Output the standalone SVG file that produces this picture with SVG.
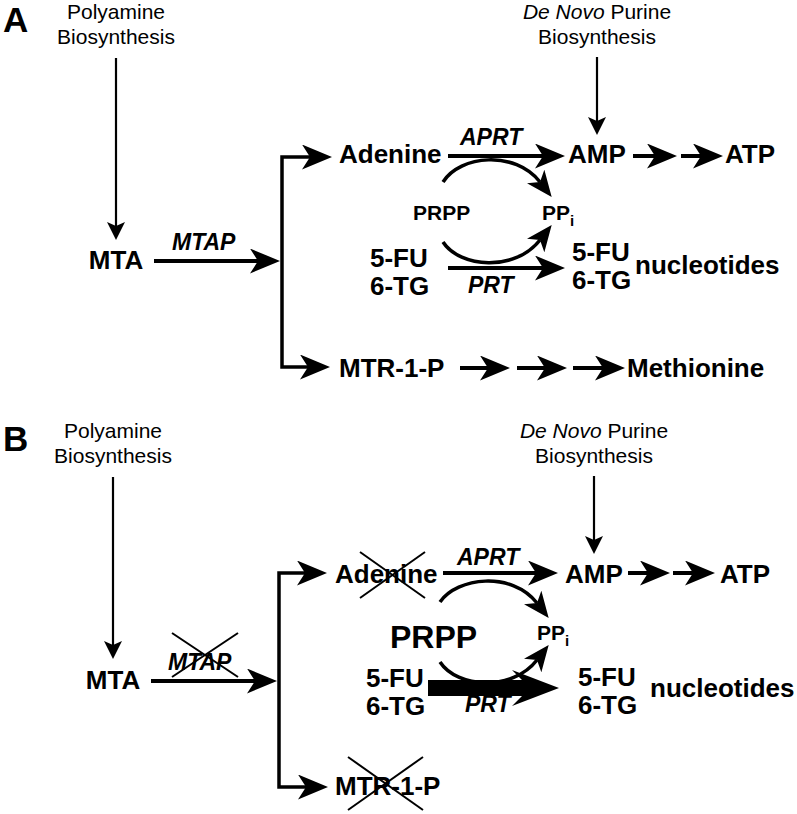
<svg xmlns="http://www.w3.org/2000/svg" width="797" height="814" viewBox="0 0 797 814">
<defs>
<marker id="mh" viewBox="0 0 30 25" refX="8" refY="12.5" markerWidth="30" markerHeight="25" markerUnits="userSpaceOnUse" orient="auto"><path d="M0,0 L30,12.5 L0,25 L8,12.5 Z" fill="#000"/></marker>
<marker id="mc" viewBox="0 0 26 22" refX="7" refY="11" markerWidth="26" markerHeight="22" markerUnits="userSpaceOnUse" orient="auto"><path d="M0,0 L26,11 L0,22 L7,11 Z" fill="#000"/></marker>
<marker id="ms" viewBox="0 0 18 18" refX="4" refY="9" markerWidth="18" markerHeight="18" markerUnits="userSpaceOnUse" orient="auto"><path d="M0,0 L18,9 L0,18 L4,9 Z" fill="#000"/></marker>
</defs>
<style>
text{font-family:"Liberation Sans",Arial,sans-serif;fill:#000}
.t{font-size:21px}
.b{font-size:26px;font-weight:bold}
.e{font-size:23px;font-weight:bold;font-style:italic}
.p{font-size:21px;font-weight:bold}
.sub{font-size:15px;font-weight:bold}
.lab{font-size:35px;font-weight:bold}
.a{fill:none;stroke:#000;stroke-width:4;marker-end:url(#mh)}
.br{fill:none;stroke:#000;stroke-width:3.5;marker-end:url(#mh)}
.c{fill:none;stroke:#000;stroke-width:3.5;marker-end:url(#mc)}
.s{fill:none;stroke:#000;stroke-width:2.2;marker-end:url(#ms)}
.x{stroke:#000;stroke-width:2}
</style>
<rect width="797" height="814" fill="#fff"/>

<!-- Panel A -->
<g id="panelA-label"><text class="lab" x="3" y="32">A</text></g>
<g id="A-polyamine"><text class="t" x="116" y="19" text-anchor="middle">Polyamine</text><text class="t" x="116" y="44" text-anchor="middle">Biosynthesis</text></g>
<g id="A-denovo"><text class="t" x="597" y="19" text-anchor="middle"><tspan font-style="italic">De Novo</tspan> Purine</text><text class="t" x="597" y="44" text-anchor="middle">Biosynthesis</text></g>
<g id="A-MTA"><text class="b" x="116" y="269" text-anchor="middle">MTA</text></g>
<g id="A-MTAP"><text class="e" x="172" y="250">MTAP</text></g>
<g id="A-adenine"><text class="b" x="339" y="163">Adenine</text></g>
<g id="A-APRT"><text class="e" x="460" y="145">APRT</text></g>
<g id="A-AMP"><text class="b" x="568" y="163">AMP</text></g>
<g id="A-ATP"><text class="b" x="725" y="163">ATP</text></g>
<g id="A-PRPP"><text class="p" x="413" y="220">PRPP</text></g>
<g id="A-PPi"><text class="p" x="542" y="220">PP<tspan class="sub" dy="6">i</tspan></text></g>
<g id="A-5FU"><text class="b" x="370" y="267">5-FU</text><text class="b" x="370" y="295">6-TG</text></g>
<g id="A-PRT"><text class="e" x="468" y="293">PRT</text></g>
<g id="A-5FUn"><text class="b" x="572" y="261">5-FU</text><text class="b" x="572" y="289">6-TG</text></g>
<g id="A-nucleotides"><text class="b" x="635" y="274">nucleotides</text></g>
<g id="A-MTR1P"><text class="b" x="339" y="377">MTR-1-P</text></g>
<g id="A-methionine"><text class="b" x="627" y="377">Methionine</text></g>

<!-- Panel B -->
<g id="panelB-label"><text class="lab" x="3" y="451">B</text></g>
<g id="B-polyamine"><text class="t" x="113" y="438" text-anchor="middle">Polyamine</text><text class="t" x="113" y="463" text-anchor="middle">Biosynthesis</text></g>
<g id="B-denovo"><text class="t" x="594" y="438" text-anchor="middle"><tspan font-style="italic">De Novo</tspan> Purine</text><text class="t" x="594" y="463" text-anchor="middle">Biosynthesis</text></g>
<g id="B-MTA"><text class="b" x="113" y="689" text-anchor="middle">MTA</text></g>
<g id="B-MTAP"><text class="e" x="168" y="670">MTAP</text><line class="x" x1="172" y1="633" x2="238" y2="677"/><line class="x" x1="238" y1="633" x2="172" y2="677"/></g>
<g id="B-adenine"><text class="b" x="335" y="583">Adenine</text><line class="x" x1="360" y1="552" x2="425" y2="598"/><line class="x" x1="425" y1="552" x2="360" y2="598"/></g>
<g id="B-APRT"><text class="e" x="457" y="565">APRT</text></g>
<g id="B-AMP"><text class="b" x="565" y="583">AMP</text></g>
<g id="B-ATP"><text class="b" x="720" y="583">ATP</text></g>
<g id="B-PRPP"><text x="390" y="648" style="font-size:32px;font-weight:bold">PRPP</text></g>
<g id="B-PPi"><text class="p" x="537" y="640">PP<tspan class="sub" dy="6">i</tspan></text></g>
<g id="B-5FU"><text class="b" x="366" y="687">5-FU</text><text class="b" x="366" y="715">6-TG</text></g>
<g id="B-5FUn"><text class="b" x="578" y="686">5-FU</text><text class="b" x="578" y="714">6-TG</text></g>
<g id="B-nucleotides"><text class="b" x="650" y="697">nucleotides</text></g>
<g id="B-MTR1P"><text class="b" x="335" y="795">MTR-1-P</text><line class="x" x1="348" y1="757" x2="423" y2="810"/><line class="x" x1="423" y1="757" x2="348" y2="810"/></g>

<g id="connectors">
<!-- A -->
<path class="s" d="M116,58 V226"/>
<path class="s" d="M597,57 V121"/>
<path class="a" d="M154,261 H258"/>
<path class="br" d="M282,262 V157 H310"/>
<path class="br" d="M282,262 V367 H308"/>
<path class="a" d="M448,156 H543"/>
<path class="a" d="M633,156 H655"/>
<path class="a" d="M681,156 H701"/>
<path class="c" d="M443,182 C460,155 515,150 540,182"/>
<path class="c" d="M443,242 C460,268 515,272 540,240"/>
<path class="a" d="M448,268 H543"/>
<path class="a" d="M460,368 H488"/>
<path class="a" d="M517,368 H545"/>
<path class="a" d="M573,368 H603"/>
<!-- B -->
<path class="s" d="M113,477 V645"/>
<path class="s" d="M594,476 V540"/>
<path class="a" d="M151,681 H255"/>
<path class="br" d="M279,682 V573 H305"/>
<path class="br" d="M279,682 V787 H306"/>
<path class="a" d="M443,573 H536"/>
<path class="a" d="M628,573 H648"/>
<path class="a" d="M673,573 H693"/>
<path class="c" d="M440,602 C457,577 512,571 537,603"/>
<polygon points="428,680 522,680 512,670 559,688 512,706 522,696 428,696" fill="#000"/>
<path class="c" d="M440,662 C457,688 512,692 537,660"/>
</g>
<g id="B-PRT"><text class="e" x="465" y="712">PRT</text></g>
</svg>
